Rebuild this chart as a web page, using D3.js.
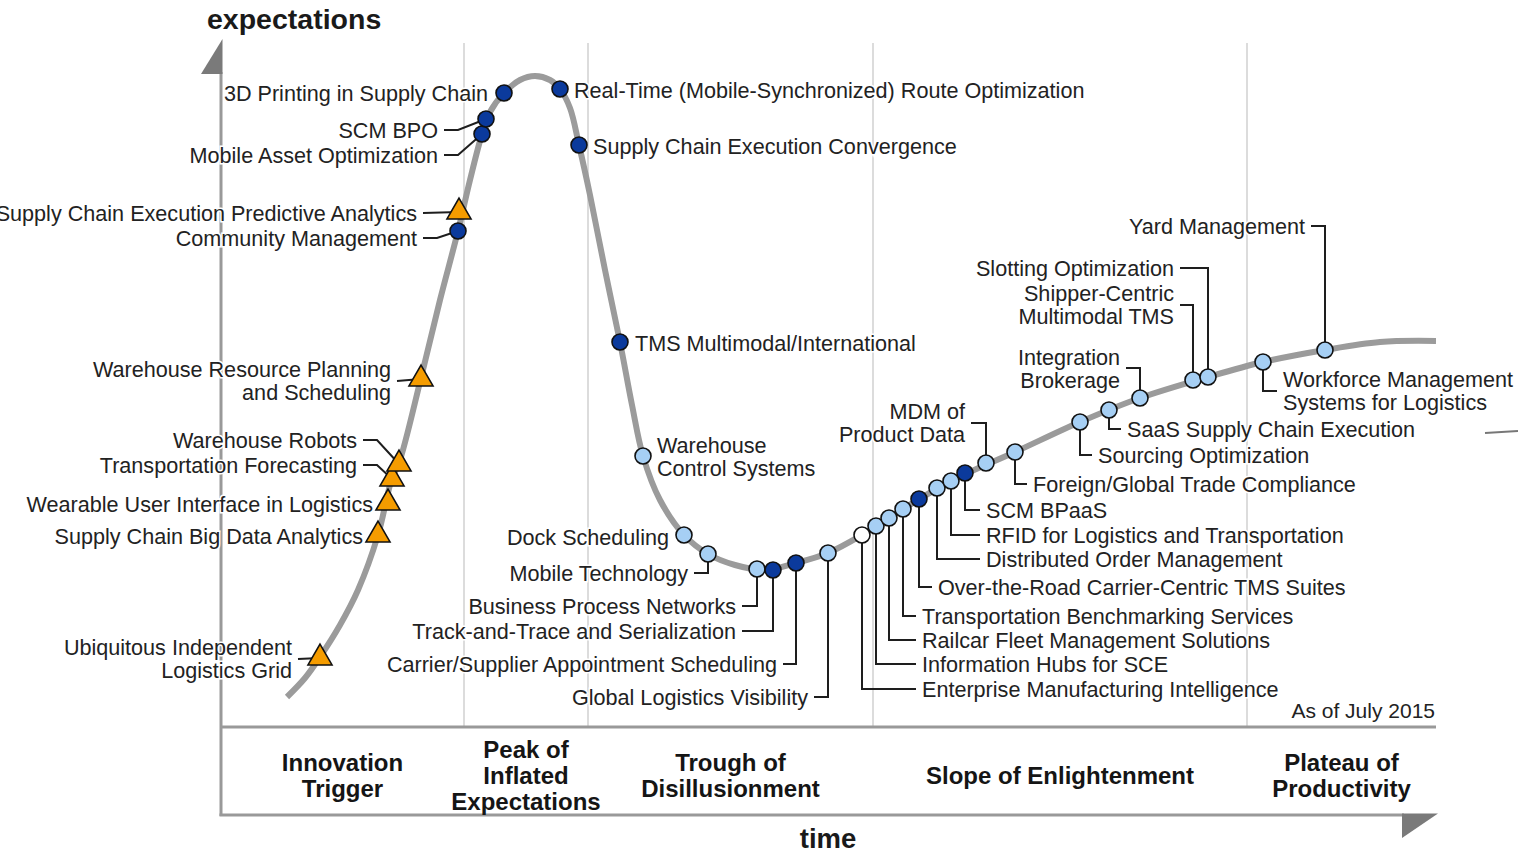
<!DOCTYPE html>
<html>
<head>
<meta charset="utf-8">
<script src="https://cdn.jsdelivr.net/npm/d3@7"></script>
<style>
  body { margin: 0; background: #fff; }
  text { font-family: "Liberation Sans", Arial, sans-serif; fill: #222; }
</style>
</head>
<body>
<svg width="1518" height="855"></svg>
<script>
// ---- data: the hype curve (time, expectations) ----
let curveTime = [66, 84, 99, 119, 137, 157, 171, 178, 200, 219, 237, 249, 261, 269, 283, 299, 314, 329, 339, 349, 358, 369, 384, 399, 411, 422, 439, 463, 487, 514, 544, 575, 607, 641, 682, 730, 794, 859, 919, 987, 1042, 1104, 1159, 1215];
let curveExp  = [30, 49, 70, 102, 137, 192, 249, 264, 349, 427, 496, 547, 593, 615, 634, 647, 651, 647, 638, 619, 582, 532, 457, 385, 322, 271, 227, 192, 173, 162, 157, 164, 174, 192, 218, 246, 275, 305, 329, 350, 365, 377, 385, 386];

// ---- data: technologies on the curve ----
let names = [
  "Ubiquitous Independent\nLogistics Grid", "Supply Chain Big Data Analytics", "Wearable User Interface in Logistics",
  "Transportation Forecasting", "Warehouse Robots", "Warehouse Resource Planning\nand Scheduling",
  "Supply Chain Execution Predictive Analytics", "Community Management", "Mobile Asset Optimization",
  "SCM BPO", "3D Printing in Supply Chain", "Real-Time (Mobile-Synchronized) Route Optimization",
  "Supply Chain Execution Convergence", "TMS Multimodal/International", "Warehouse\nControl Systems",
  "Dock Scheduling", "Mobile Technology", "Business Process Networks",
  "Track-and-Trace and Serialization", "Carrier/Supplier Appointment Scheduling", "Global Logistics Visibility",
  "Enterprise Manufacturing Intelligence", "Information Hubs for SCE", "Railcar Fleet Management Solutions",
  "Transportation Benchmarking Services", "Over-the-Road Carrier-Centric TMS Suites", "Distributed Order Management",
  "RFID for Logistics and Transportation", "SCM BPaaS", "MDM of\nProduct Data",
  "Foreign/Global Trade Compliance", "Sourcing Optimization", "SaaS Supply Chain Execution",
  "Integration\nBrokerage", "Shipper-Centric\nMultimodal TMS", "Slotting Optimization",
  "Workforce Management\nSystems for Logistics", "Yard Management"
];
// years to mainstream adoption: tri = more than 10, dark = 5 to 10, light = 2 to 5, white = less than 2
let kinds = [
  "tri", "tri", "tri", "tri", "tri", "tri", "tri", "dark", "dark", "dark", "dark", "dark", "dark", "dark",
  "light", "light", "light", "light", "dark", "dark", "light", "white", "light", "light", "light", "dark",
  "light", "light", "dark", "light", "light", "light", "light", "light", "light", "light", "light", "light"
];
let posTime = [99, 157, 167, 171, 178, 200, 238, 237, 261, 265, 283, 339, 358, 399, 422, 463, 487, 536, 552, 575, 607, 641, 655, 668, 682, 698, 716, 730, 744, 765, 794, 859, 888, 919, 972, 987, 1042, 1104];
let posExp  = [69, 192, 224, 248, 263, 348, 515, 496, 593, 608, 634, 638, 582, 385, 271, 192, 173, 158, 157, 164, 174, 192, 201, 209, 218, 228, 239, 246, 254, 264, 275, 305, 317, 329, 347, 350, 365, 377];

// ---- data: phases ----
let phases = ["Innovation\nTrigger", "Peak of\nInflated\nExpectations", "Trough of\nDisillusionment", "Slope of Enlightenment", "Plateau of\nProductivity"];
let phaseBreaks = [243, 367, 652, 1026];
let timeMax = 1215, expMax = 682;

// label placement relative to the marker: [dx, dy, leader dy, leader kind]
let labelLayout = [
  [-28, -11, 1, "h"], [-15, 1, 0, ""], [-15, 1, 0, ""], [-35, -14, -14, "d"], [-42, -24, -24, "d"],
  [-30, -10, 2, "h"], [-42, 1, 1, "h"], [-41, 7, 7, "d"], [-44, 21, 21, "d"], [-48, 11, 11, "d"],
  [-16, 0, 0, ""], [14, 1, 0, ""], [14, 1, 0, ""], [15, 1, 0, ""], [14, -11, 0, ""],
  [-15, 2, 0, ""], [-20, 19, 19, "v"], [-21, 37, 37, "v"], [-37, 61, 61, "v"], [-19, 101, 101, "v"],
  [-20, 144, 144, "v"], [60, 154, 154, "v"], [46, 138, 138, "v"], [33, 122, 122, "v"], [19, 107, 107, "v"],
  [19, 88, 88, "v"], [49, 71, 71, "v"], [35, 54, 54, "v"], [21, 37, 37, "v"], [-21, -52, -40, "v"],
  [18, 32, 32, "v"], [18, 33, 33, "v"], [18, 19, 19, "v"], [-20, -41, -30, "v"], [-19, -87, -75, "v"],
  [-34, -109, -109, "v"], [20, 17, 29, "v"], [-20, -124, -124, "v"]
];

let fills = { dark: "#0b3a9c", light: "#a6cff4", white: "#ffffff", tri: "#f59c00" };

let svg = d3.select("svg");
let x = d3.scaleLinear().domain([0, timeMax]).range([221, 1436]);
let y = d3.scaleLinear().domain([0, expMax]).range([727, 45]);

// phase dividers
svg.selectAll(".divider")
  .data(phaseBreaks)
  .enter().append("line")
  .attr("x1", d => x(d)).attr("x2", d => x(d))
  .attr("y1", y(expMax) - 2).attr("y2", y(0))
  .attr("stroke", "#dcdcdc").attr("stroke-width", 2);

// axes frame
let axisColor = "#999";
svg.append("line").attr("x1", x(0)).attr("x2", x(0)).attr("y1", 72).attr("y2", 816)
  .attr("stroke", axisColor).attr("stroke-width", 3);
svg.append("path").attr("d", "M" + (x(0) + 1.5) + ",39 L" + (x(0) + 1.5) + ",74 L201,74 Z").attr("fill", "#7a7a7a");
svg.append("line").attr("x1", x(0)).attr("x2", x(timeMax)).attr("y1", y(0)).attr("y2", y(0))
  .attr("stroke", axisColor).attr("stroke-width", 3);
svg.append("line").attr("x1", x(0) - 1.5).attr("x2", 1404).attr("y1", 815).attr("y2", 815)
  .attr("stroke", axisColor).attr("stroke-width", 3);
svg.append("path").attr("d", "M1402,813.5 L1438,813.5 L1402,838 Z").attr("fill", "#7a7a7a");
// stray mark at right edge
svg.append("line").attr("x1", 1485).attr("x2", 1518).attr("y1", 433).attr("y2", 431)
  .attr("stroke", "#777").attr("stroke-width", 2);

// axis titles
svg.append("text").attr("x", 207).attr("y", 29).attr("font-size", 28.5).attr("font-weight", "bold")
  .style("fill", "#1a1a1a").text("expectations");
svg.append("text").attr("x", 828).attr("y", 848).attr("text-anchor", "middle").attr("font-size", 27.5)
  .attr("font-weight", "bold").style("fill", "#1a1a1a").text("time");
svg.append("text").attr("x", 1435).attr("y", 718).attr("text-anchor", "end").attr("font-size", 21)
  .text("As of July 2015");

// phase names
let bounds = [0].concat(phaseBreaks, [timeMax]);
phases.forEach(function(p, i) {
  let lines = p.split("\n");
  let cx = x((bounds[i] + bounds[i + 1]) / 2);
  let t = svg.append("text").attr("text-anchor", "middle").attr("font-size", 24)
    .attr("font-weight", "bold").style("fill", "#151515");
  lines.forEach(function(l, k) {
    t.append("tspan").attr("x", cx)
      .attr("y", 775 + (k - (lines.length - 1) / 2) * 26)
      .attr("dy", "0.36em").text(l);
  });
});

// hype curve
let line = d3.line()
  .x(function(d, i) { return x(curveTime[i]); })
  .y(function(d, i) { return y(curveExp[i]); })
  .curve(d3.curveCatmullRom.alpha(0.5));
svg.append("path").datum(curveTime).attr("d", line)
  .attr("fill", "none").attr("stroke", "#9b9b9b").attr("stroke-width", 6).attr("stroke-linecap", "butt");

// labels + leaders
let lineH = 23.5;
names.forEach(function(name, i) {
  let mx = x(posTime[i]), my = y(posExp[i]);
  let L = labelLayout[i];
  let lx = mx + L[0], ly = my + L[1];
  let anchor = L[0] < 0 ? "end" : "start";
  let edge = anchor == "end" ? lx + 6 : lx - 6;
  let ldy = my + L[2];
  let pts = null;
  if (L[3] == "h") pts = [[edge, ldy], [mx, my]];
  if (L[3] == "d") pts = [[edge, ldy], [edge + 14, ldy], [mx, my]];
  if (L[3] == "v") pts = [[edge, ldy], [mx, ldy], [mx, my]];
  if (pts) {
    svg.append("path").attr("d", d3.line()(pts))
      .attr("fill", "none").attr("stroke", "#1e1e1e").attr("stroke-width", 2);
  }
  let t = svg.append("text").attr("text-anchor", anchor).attr("font-size", 21.6)
    .attr("stroke", "#fff").attr("stroke-width", 3).attr("paint-order", "stroke");
  name.split("\n").forEach(function(l, k) {
    t.append("tspan").attr("x", lx).attr("y", ly + k * lineH).attr("dy", "0.36em").text(l);
  });
});

// markers
names.forEach(function(name, i) {
  let mx = x(posTime[i]), my = y(posExp[i]);
  if (kinds[i] == "tri") {
    svg.append("path").attr("d", d3.symbol().type(d3.symbolTriangle).size(250)())
      .attr("transform", "translate(" + mx + "," + my + ")")
      .attr("fill", fills.tri).attr("stroke", "#111").attr("stroke-width", 1.6);
  } else {
    svg.append("circle").attr("cx", mx).attr("cy", my).attr("r", 8)
      .attr("fill", fills[kinds[i]]).attr("stroke", "#111").attr("stroke-width", 1.6);
  }
});
</script>
</body>
</html>
